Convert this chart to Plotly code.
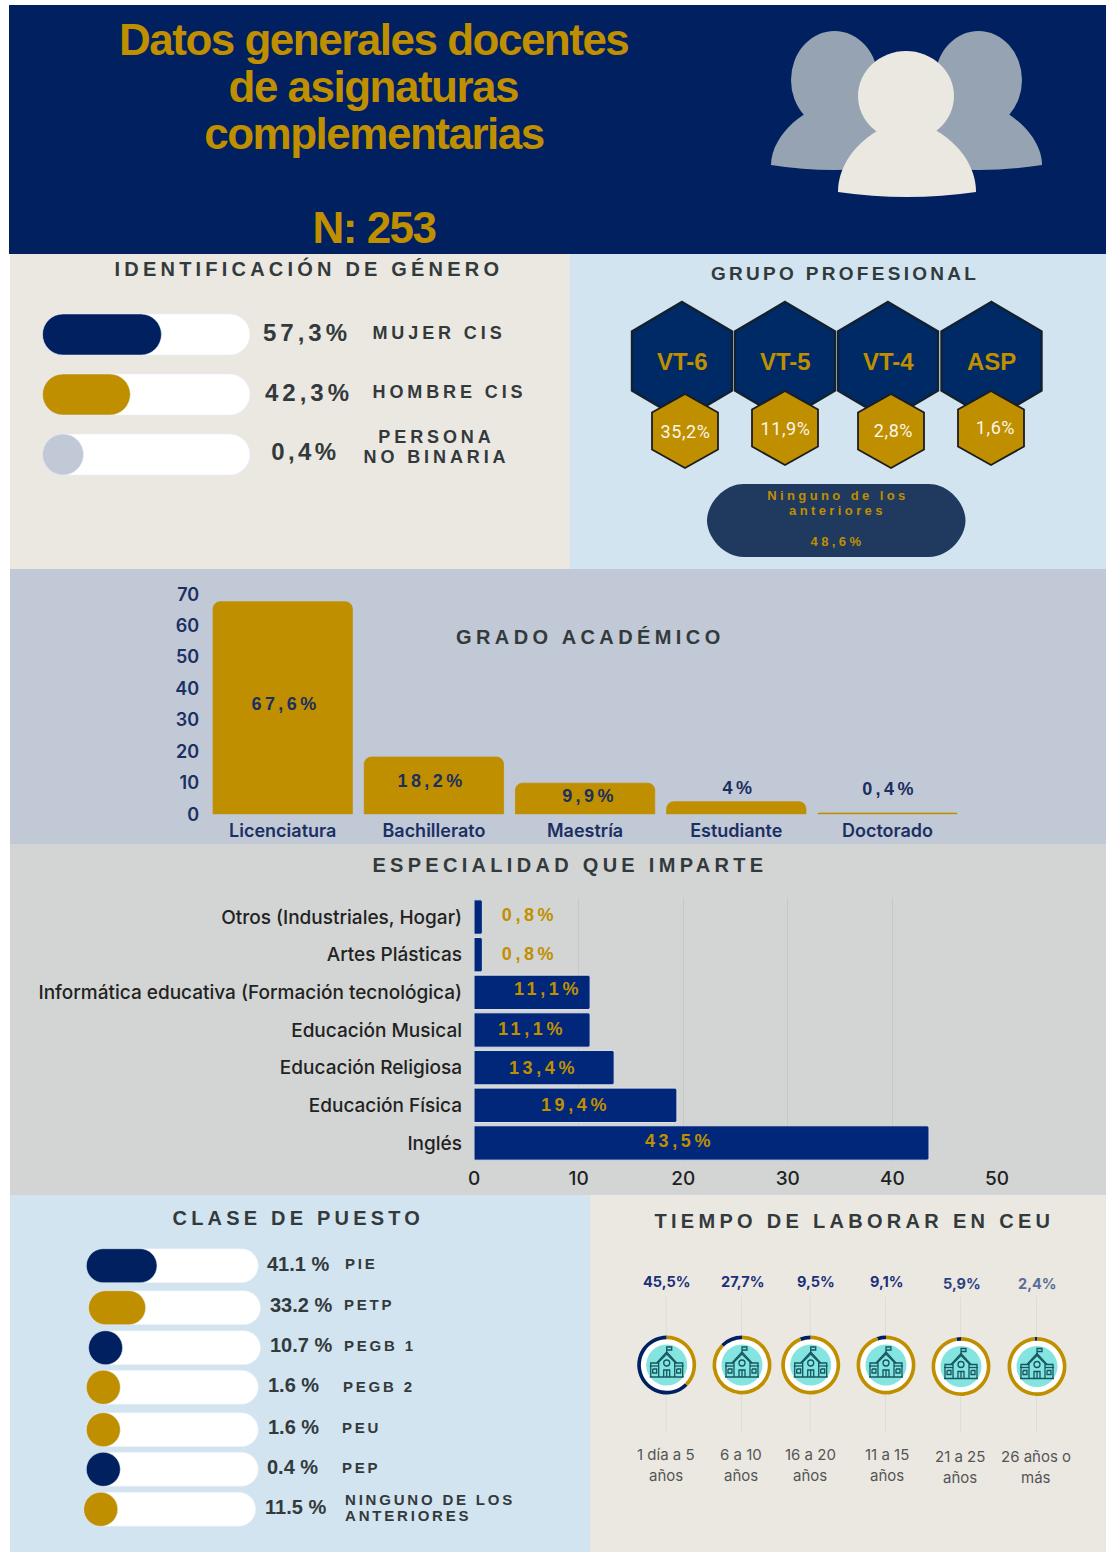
import json
import plotly.graph_objects as go

W, H = 1106, 1552
NAVY, GOLD, GREY = "#002060", "#BF8F00", "#C2C9D6"
BAR_NAVY = "#00277A"
CREAM, SKY, SLATE, ASH = "#EBE8E2", "#D2E4F0", "#C1C9D6", "#D3D5D5"
DARK = "#333A3C"

# ---------------- data ----------------
GENDER_NAMES = ["Mujer cis", "Hombre cis", "Persona no binaria"]
GENDER_VALUES = [57.3, 42.3, 0.4]
GENDER_LABELS = ["57,3%", "42,3%", "0,4%"]

GROUP_NAMES = ["VT-6", "VT-5", "VT-4", "ASP"]
GROUP_LABELS = ["35,2%", "11,9%", "2,8%", "1,6%"]
GROUP_OTHER = ["Ninguno de los", "anteriores", "48,6%"]

DEGREE_NAMES = ["Licenciatura", "Bachillerato", "Maestría", "Estudiante", "Doctorado"]
DEGREE_VALUES = [67.6, 18.2, 9.9, 4.0, 0.4]
DEGREE_LABELS = ["67,6%", "18,2%", "9,9%", "4%", "0,4%"]

SPEC_NAMES = ["Otros (Industriales, Hogar)", "Artes Plásticas",
              "Informática educativa (Formación tecnológica)", "Educación Musical",
              "Educación Religiosa", "Educación Física", "Inglés"]
SPEC_VALUES = [0.8, 0.8, 11.1, 11.1, 13.4, 19.4, 43.5]
SPEC_LABELS = ["0,8%", "0,8%", "11,1%", "11,1%", "13,4%", "19,4%", "43,5%"]

POST_NAMES = ["PIE", "PETP", "PEGB 1", "PEGB 2", "PEU", "PEP", "NINGUNO DE LOS ANTERIORES"]
POST_VALUES = [41.1, 33.2, 10.7, 1.6, 1.6, 0.4, 11.5]
POST_LABELS = ["41.1 %", "33.2 %", "10.7 %", "1.6 %", "1.6 %", "0.4 %", "11.5 %"]

TIME_NAMES = [("1 día a 5", "años"), ("6 a 10", "años"), ("16 a 20", "años"),
              ("11 a 15", "años"), ("21 a 25", "años"), ("26 años o", "más")]
TIME_LABELS = ["45,5%", "27,7%", "9,5%", "9,1%", "5,9%", "2,4%"]
# share of each ring drawn in navy, as measured on the rings themselves
TIME_RING_SHARE = [62.5, 12.5, 6.0, 5.0, 2.6, 1.4]

# ---------------- pixel helpers ----------------
def fx(x): return x / W
def fy(y): return 1 - y / H
def dx(a, b): return [a / W, b / W]
def dy(top, bot): return [1 - bot / H, 1 - top / H]
def pt(x, y): return f"{fx(x):.5f},{fy(y):.5f}"

fig = go.Figure()
shapes, annots, spacing = [], [], {}

def rect(x0, y0, x1, y1, color, layer="below"):
    shapes.append(dict(type="rect", xref="paper", yref="paper", x0=fx(x0), x1=fx(x1),
                       y0=fy(y1), y1=fy(y0), fillcolor=color, line_width=0, layer=layer))

def oval(cx, cy, rx, ry, color, layer="below", line=None, lw=0):
    shapes.append(dict(type="circle", xref="paper", yref="paper", x0=fx(cx - rx), x1=fx(cx + rx),
                       y0=fy(cy + ry), y1=fy(cy - ry), fillcolor=color, layer=layer,
                       line=dict(color=line or color, width=lw)))

def path(points_cmd, fill=None, line=None, lw=0, layer="below"):
    shapes.append(dict(type="path", xref="paper", yref="paper", path=points_cmd,
                       fillcolor=fill or "rgba(0,0,0,0)", layer=layer,
                       line=dict(color=line or "rgba(0,0,0,0)", width=lw)))

def text(x, y, s, size, color, family="Liberation Sans", bold=False, weight=None, ls=0, anchor="center"):
    annots.append(dict(xref="paper", yref="paper", x=fx(x), y=fy(y), text=s, showarrow=False,
                       xanchor=anchor, yanchor="middle", align=anchor,
                       font=dict(size=size, color=color, family=family,
                                 weight=weight or (700 if bold else 400))))
    if ls:
        spacing[s] = ls

def hexagon(cx, cy, hw, hh, fill, line, lw):
    q = hh / 2
    p = (f"M{pt(cx, cy - hh)} L{pt(cx + hw, cy - q)} L{pt(cx + hw, cy + q)} "
         f"L{pt(cx, cy + hh)} L{pt(cx - hw, cy + q)} L{pt(cx - hw, cy - q)} Z")
    path(p, fill=fill, line=line, lw=lw)

def body(cx, hw, top, bot, color):
    p = (f"M{pt(cx - hw, bot - 5)} C{pt(cx - hw, top + 30)} {pt(cx - hw * .4, top)} {pt(cx, top)} "
         f"C{pt(cx + hw * .4, top)} {pt(cx + hw, top + 30)} {pt(cx + hw, bot - 5)} "
         f"Q{pt(cx, bot + 5)} {pt(cx - hw, bot - 5)} Z")
    path(p, fill=color)

# ---------------- panels ----------------
rect(9, 5, W, 254, NAVY)
rect(10, 254, 570, 569, CREAM)
rect(570, 254, W, 570, SKY)
rect(10, 569, W, 844, SLATE)
rect(10, 844, W, 1195, ASH)
rect(10, 1195, 590, H, SKY)
rect(590, 1195, W, H, CREAM)

# ---------------- header ----------------
for i, s in enumerate(["Datos generales docentes", "de asignaturas", "complementarias"]):
    text(373.5, 39 + 47 * i, s, 44, GOLD, bold=True, ls=-1.5)
text(374.5, 227, "N: 253", 44, GOLD, bold=True, ls=-1.5)

PERSON_BACK, PERSON_FRONT = "#95A3B3", "#EBE8E2"
for cx_body, cx_head in ((834, 834.5), (979, 978.5)):
    body(cx_body, 63, 104, 170, PERSON_BACK)
    oval(cx_head, 80, 43.5, 49, PERSON_BACK)
body(907, 69, 122, 197, PERSON_FRONT)
oval(906, 96, 48, 45, PERSON_FRONT)

# ---------------- gender ----------------
text(309, 268, "IDENTIFICACIÓN DE GÉNERO", 20, DARK, bold=True, ls=4.2)
G_Y = [332, 392, 451]
G_X = [307, 309, 305.5]
for s, x, y in zip(GENDER_LABELS, G_X, G_Y):
    text(x, y, s, 24, DARK, bold=True, ls=4)
text(438.5, 333, "MUJER CIS", 18, DARK, bold=True, ls=3.9)
text(449.5, 392, "HOMBRE CIS", 18, DARK, bold=True, ls=3.9)
text(436, 437, "PERSONA", 18, DARK, bold=True, ls=3.9)
text(436, 457, "NO BINARIA", 18, DARK, bold=True, ls=3.9)

G_PILL_MIN = 41 / 2.075
G_BASE = [0.0, 0.0, 0.0]
fig.add_trace(go.Bar(y=GENDER_NAMES, x=[100] * 3, base=G_BASE, orientation="h",
                     marker=dict(color="white", cornerradius=20.5),
                     xaxis="x2", yaxis="y2", showlegend=False, hoverinfo="skip"))
fig.add_trace(go.Bar(y=GENDER_NAMES, x=[max(v, G_PILL_MIN) for v in GENDER_VALUES], base=G_BASE, orientation="h",
                     marker=dict(color=[NAVY, GOLD, GREY], cornerradius=20.5),
                     xaxis="x2", yaxis="y2", showlegend=False, hovertext=GENDER_LABELS, hoverinfo="y+text"))

# ---------------- professional group ----------------
text(845, 273, "GRUPO PROFESIONAL", 19, DARK, bold=True, ls=3.3)
HEX_X = [682, 785, 888, 991.5]
SMALL_X = [685, 785, 891, 991]
SMALL_Y = [431, 428, 431, 428]
LABEL_X = [685, 785, 894, 995]
LABEL_Y = [431, 428, 430, 427]
for cx in HEX_X:
    hexagon(cx, 361, 50, 59, "#002A66", "#12202F", 2.4)
for cx, cy in zip(SMALL_X, SMALL_Y):
    hexagon(cx, cy, 33, 37, GOLD, "#1C1C1C", 1.8)
for cx, name in zip(HEX_X, GROUP_NAMES):
    text(cx, 361, name, 24, GOLD, bold=True)
for x, y, s in zip(LABEL_X, LABEL_Y, GROUP_LABELS):
    text(x, y, s, 18, "#FAF6EA", family="Roboto", ls=0.6)

xa, xb, ya, yb = 707, 965.5, 484, 557
r = (yb - ya) / 2
path(f"M{pt(xa + r, ya)} L{pt(xb - r, ya)} C{pt(xb - r * .45, ya)} {pt(xb, ya + r * .55)} {pt(xb, ya + r)} "
     f"C{pt(xb, yb - r * .55)} {pt(xb - r * .45, yb)} {pt(xb - r, yb)} L{pt(xa + r, yb)} "
     f"C{pt(xa + r * .45, yb)} {pt(xa, yb - r * .55)} {pt(xa, ya + r)} C{pt(xa, ya + r * .55)} {pt(xa + r * .45, ya)} {pt(xa + r, ya)} Z",
     fill="#203A5F")
for s, y in zip(GROUP_OTHER, [496, 511, 541]):
    text(837.5, y, s, 13, GOLD, bold=True, ls=3.4)

# ---------------- academic degree ----------------
text(590, 637, "GRADO ACADÉMICO", 20, DARK, bold=True, ls=4.4)
fig.add_trace(go.Bar(x=DEGREE_NAMES, y=DEGREE_VALUES,
                     marker=dict(color=GOLD, cornerradius=7, line=dict(color=GOLD, width=0.8)),
                     xaxis="x3", yaxis="y3", showlegend=False, hovertext=DEGREE_LABELS, hoverinfo="x+text"))
DEGREE_TEXT_Y = [35, 10.6, 5.8, 8.4, 8]
DEGREE_SHIFT = [3, -2, 4, 2.5, 2]
for n, y, s, sh in zip(DEGREE_NAMES, DEGREE_TEXT_Y, DEGREE_LABELS, DEGREE_SHIFT):
    annots.append(dict(xref="x3", yref="y3", x=n, y=y, text=s, showarrow=False, xshift=sh,
                       font=dict(size=18, color="#1C2F5F", family="Liberation Sans", weight=700)))
    spacing[s] = 3.4

# ---------------- speciality ----------------
text(570, 865, "ESPECIALIDAD QUE IMPARTE", 20, DARK, bold=True, ls=4.3)
fig.add_trace(go.Bar(y=SPEC_NAMES, x=SPEC_VALUES, orientation="h",
                     marker=dict(color=BAR_NAVY, cornerradius=2, line=dict(color="#DCE1EA", width=1)),
                     xaxis="x4", yaxis="y4", showlegend=False, hovertext=SPEC_LABELS, hoverinfo="y+text"))
SPEC_TEXT_X = [5.3, 5.3, 7.1, 5.5, 6.6, 9.7, 19.6]
SPEC_TEXT_SHIFT = [-2, -1, -3, -1, 0, 0, -2]
for n, x, s, sh in zip(SPEC_NAMES, SPEC_TEXT_X, SPEC_LABELS, SPEC_TEXT_SHIFT):
    annots.append(dict(xref="x4", yref="y4", x=x, y=n, text=s, showarrow=False, yshift=-sh,
                       font=dict(size=18, color=GOLD, family="Liberation Sans", weight=700)))
    spacing[s] = 3.6

# ---------------- post class ----------------
text(298, 1218, "CLASE DE PUESTO", 20, DARK, bold=True, ls=4.2)
P_ROW_Y = [1265.7, 1307.7, 1347.7, 1387.3, 1429.7, 1469.3, 1509.3]
P_BASE = [0, 1.3, 1.3, 0, 0, 0, -1.5]
P_MIN = 34 / 1.72
fig.add_trace(go.Bar(y=P_ROW_Y, x=[100] * 7, base=P_BASE, width=34, orientation="h",
                     marker=dict(color="white", cornerradius=17),
                     xaxis="x5", yaxis="y5", showlegend=False, hoverinfo="skip"))
fig.add_trace(go.Bar(y=P_ROW_Y, x=[max(v, P_MIN) for v in POST_VALUES], base=P_BASE, width=34, orientation="h",
                     marker=dict(color=[NAVY, GOLD, NAVY, GOLD, GOLD, NAVY, GOLD], cornerradius=17),
                     xaxis="x5", yaxis="y5", showlegend=False, hovertext=POST_NAMES, hoverinfo="text"))
P_LAB_X = [265, 268, 268, 266, 266, 265, 263]
P_LAB_Y = [1264, 1305, 1345, 1385, 1427, 1467, 1507]
for x, y, s in zip(P_LAB_X, P_LAB_Y, POST_LABELS):
    text(x, y, s, 20, DARK, bold=True, anchor="left")
P_NAME_X = [343, 342, 342, 341, 340, 340]
P_NAME_Y = [1263, 1304, 1345, 1386.5, 1427, 1467]
for x, y, s in zip(P_NAME_X, P_NAME_Y, POST_NAMES[:6]):
    text(x, y, s, 15, DARK, bold=True, ls=2.8, anchor="left")
text(343, 1499, "NINGUNO DE LOS", 15, DARK, bold=True, ls=2.8, anchor="left")
text(343, 1515, "ANTERIORES", 15, DARK, bold=True, ls=2.8, anchor="left")

# ---------------- time at CEU ----------------
text(854, 1221, "TIEMPO DE LABORAR EN CEU", 20, DARK, bold=True, ls=4.3)
RING_X = [666.7, 742, 810.7, 886, 961, 1037]
RING_Y = [1365, 1365, 1365, 1365, 1366.5, 1366.5]
TOP_X = [667, 742, 816, 887, 962, 1037]
TOP_Y = [1281, 1281, 1281, 1281, 1283, 1283]
TOP_COLORS = ["#1C2F7A", "#1C2F7A", "#1C2F7A", "#1C2F7A", "#2A3F80", "#5A6C98"]
BOT_X = [666, 741, 810, 887, 960, 1036]
BOT_Y = [1454, 1454, 1454, 1454, 1456, 1456]
R_OUT = 29.5
ICON = "#17565E"

def icon(cx, cy):
    lw = 1.3
    def P(*a):
        return " ".join(("M" if i == 0 else "L") + pt(cx + x, cy + y) for i, (x, y) in enumerate(a))
    path(P((-8, 12), (-8, -3), (0, -11), (8, -3), (8, 12)), line=ICON, lw=lw, layer="above")
    path(P((-10, -2), (0, -13), (10, -2)), line=ICON, lw=lw, layer="above")
    path(P((-16, 12), (-16, -2), (-8, -2)), line=ICON, lw=lw, layer="above")
    path(P((16, 12), (16, -2), (8, -2)), line=ICON, lw=lw, layer="above")
    path(P((-17, 12), (17, 12)), line=ICON, lw=lw, layer="above")
    path(P((-17, 1), (-8, 1)), line=ICON, lw=lw, layer="above")
    path(P((17, 1), (8, 1)), line=ICON, lw=lw, layer="above")
    path(P((-3, 12), (-3, 5), (3, 5), (3, 12)), line=ICON, lw=lw, layer="above")
    path(P((0, 12), (0, 5)), line=ICON, lw=lw, layer="above")
    path(P((0, -11), (0, -18), (5, -18), (5, -15), (0, -15)), line=ICON, lw=lw, layer="above")
    for sx in (-12, 12):
        path(P((sx - 2, 4), (sx + 2, 4), (sx + 2, 8), (sx - 2, 8), (sx - 2, 4)), line=ICON, lw=lw, layer="above")
    oval(cx, cy - 2, 3, 3, "rgba(0,0,0,0)", layer="above", line=ICON, lw=lw)

for x, y, share in zip(RING_X, RING_Y, TIME_RING_SHARE):
    shapes.append(dict(type="line", xref="paper", yref="paper", x0=fx(x - .5), x1=fx(x - .5),
                       y0=fy(1297), y1=fy(1432), line=dict(color="#DEDCD6", width=1), layer="below"))
    oval(x, y, R_OUT, R_OUT, "white")
    oval(x, y, 20.5, 20.5, "#83E4E0")
    fig.add_trace(go.Pie(values=[share, 100 - share], marker=dict(colors=[NAVY, GOLD], line=dict(width=0)),
                         hole=0.875, sort=False, direction="clockwise", rotation=-share * 3.6,
                         textinfo="none", showlegend=False, hoverinfo="skip", automargin=False,
                         domain=dict(x=dx(x - R_OUT, x + R_OUT), y=dy(y - R_OUT, y + R_OUT))))
    icon(x, y)

for x, y, s, c in zip(TOP_X, TOP_Y, TIME_LABELS, TOP_COLORS):
    text(x, y, s, 14.5, c, family="Inter", weight=700)
for x, y, (a, b) in zip(BOT_X, BOT_Y, TIME_NAMES):
    text(x, y, a, 15, "#555555", family="Inter")
    text(x, y + 21, b, 15, "#555555", family="Inter")

# ---------------- layout ----------------
hidden = dict(visible=False, fixedrange=True, automargin=False)
LABEL_FONT = dict(size=18, color="#1C2F63", family="Inter", weight=600)
SPEC_FONT = dict(size=19, color="#222222", family="Inter", weight=500)
plain = dict(automargin=False, fixedrange=True, showgrid=False, showline=False, zeroline=False, ticks="")

fig.update_layout(
    width=W, height=H, autosize=False, margin=dict(l=0, r=0, t=0, b=0, pad=0),
    paper_bgcolor="white", plot_bgcolor="rgba(0,0,0,0)", barmode="overlay",
    showlegend=False, shapes=shapes, annotations=annots,
    xaxis=dict(hidden), yaxis=dict(hidden),
    xaxis2=dict(hidden, domain=dx(42.5, 250), range=[0, 100], anchor="y2"),
    yaxis2=dict(hidden, domain=dy(304.5, 484.5), range=[2.5, -0.5], anchor="x2", type="category"),
    xaxis3=dict(plain, domain=dx(207.1, 963.1), range=[-0.5, 4.5], anchor="y3", type="category",
                tickfont=LABEL_FONT, ticklabelstandoff=4),
    yaxis3=dict(plain, domain=dy(594.2, 814.3), range=[0, 70], anchor="x3", dtick=10, tickfont=LABEL_FONT,
                ticklabelstandoff=7),
    xaxis4=dict(plain, domain=dx(474, 997), range=[0, 50], anchor="y4", dtick=10,
                tickfont=SPEC_FONT, ticklabelstandoff=3),
    yaxis4=dict(plain, domain=dy(898.2, 1161.8), range=[6.5, -0.5], anchor="x4", type="category",
                tickfont=SPEC_FONT, ticklabelstandoff=11),
    xaxis5=dict(hidden, domain=dx(86.3 - 3 * 1.72, 86.3 + 103 * 1.72), range=[-3, 103], anchor="y5"),
    yaxis5=dict(hidden, domain=dy(1245, 1530), range=[1530, 1245], anchor="x5"),
)
fig.layout.xaxis4.showgrid = True
fig.layout.xaxis4.gridcolor = "#C6C8C8"
fig.layout.xaxis4.gridwidth = 1
# per-panel bar thickness on the category axes
fig.data[0].width = 41 / 60
fig.data[1].width = 41 / 60
fig.data[2].width = 139.3 / 151.2
fig.data[3].width = 34.4 / 37.67

post = """
var sp = %s;
document.body.style.margin = '0';
function applySpacing() {
  document.querySelectorAll('text.annotation-text').forEach(function (t) {
    var k = t.textContent;
    if (sp[k] !== undefined) { t.style.letterSpacing = sp[k] + 'px'; }
  });
}
applySpacing();
setTimeout(applySpacing, 50);
var gd = document.getElementById('{plot_id}');
if (gd && gd.on) { gd.on('plotly_afterplot', applySpacing); }
""" % json.dumps(spacing, ensure_ascii=False)

fig.write_html("out.html", post_script=post, config=dict(displayModeBar=False))
